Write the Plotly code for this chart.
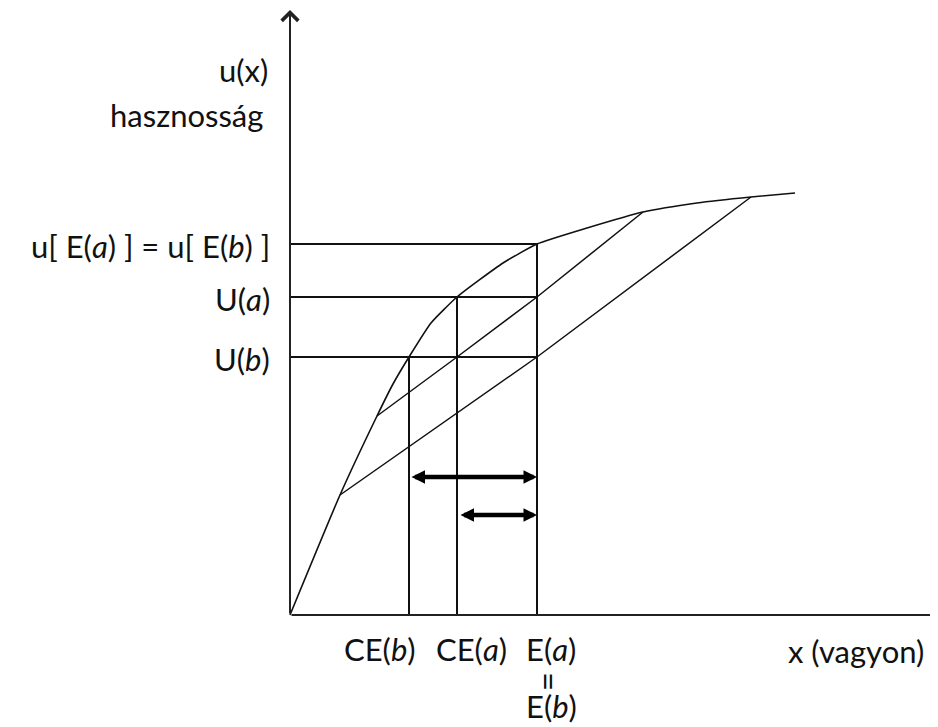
import plotly.graph_objects as go

# ---- data (chart units: 1 unit ~ 1 px, origin at the axes corner) ----
curve_x = [0, 50, 87, 103, 119, 141, 167, 213, 247, 297, 353, 407, 461, 505]
curve_y = [0, 120, 199, 231, 258, 292, 318, 352, 371, 387, 403, 412, 418, 422]

line_a_x = [87, 167, 247, 353]
line_a_y = [199, 258, 318, 403]

line_b_x = [50, 247, 461]
line_b_y = [120, 258, 418]

# certainty equivalents / expected value on x, utilities on y
ce_b, ce_a, e_val = 119, 167, 247
u_b, u_a, u_e = 258, 318, 371

# risk premium arrows (y level, x start, x end)
arrow_levels = [138, 100]
arrow_starts = [120, 169]
arrow_end = 247

y_labels = ["u[ E(<i>a</i>) ] = u[ E(<i>b</i>) ]", "U(<i>a</i>)", "U(<i>b</i>)"]
y_label_vals = [u_e, u_a, u_b]
x_labels = ["CE(<i>b</i>)", "CE(<i>a</i>)", "E(<i>a</i>)"]
x_label_vals = [ce_b - 29, ce_a + 14, e_val + 14]

FONT = "Lato"
FS = 31
BLACK = "#111111"

fig = go.Figure()

# utility curve
fig.add_trace(go.Scatter(x=curve_x, y=curve_y, mode="lines",
                         line=dict(color=BLACK, width=1.6, shape="spline", smoothing=0.5),
                         hoverinfo="skip"))
# expected utility chords
fig.add_trace(go.Scatter(x=line_a_x, y=line_a_y, mode="lines",
                         line=dict(color=BLACK, width=1.5), hoverinfo="skip"))
fig.add_trace(go.Scatter(x=line_b_x, y=line_b_y, mode="lines",
                         line=dict(color=BLACK, width=1.5), hoverinfo="skip"))

# horizontal guides
for yv in [u_e, u_a, u_b]:
    fig.add_trace(go.Scatter(x=[0, e_val], y=[yv, yv], mode="lines",
                             line=dict(color=BLACK, width=2), hoverinfo="skip"))
# vertical guides
for xv, yv in [(ce_b, u_b), (ce_a, u_a), (e_val, u_e)]:
    fig.add_trace(go.Scatter(x=[xv, xv], y=[0, yv], mode="lines",
                             line=dict(color=BLACK, width=2), hoverinfo="skip"))

annotations = []
# axes with arrows
annotations.append(dict(x=0, y=605, ax=0, ay=0, xref="x", yref="y", axref="x", ayref="y",
                        text="", showarrow=True, arrowhead=4, arrowsize=1.6,
                        arrowwidth=2, arrowcolor="#222222", standoff=0))
annotations.append(dict(x=656, y=0, ax=0, ay=0, xref="x", yref="y", axref="x", ayref="y",
                        text="", showarrow=True, arrowhead=4, arrowsize=1.6,
                        arrowwidth=2, arrowcolor="#222222", standoff=0))

# double arrows
for lvl, st in zip(arrow_levels, arrow_starts):
    annotations.append(dict(x=arrow_end, y=lvl, ax=st, ay=lvl, xref="x", yref="y",
                            axref="x", ayref="y", text="", showarrow=True,
                            arrowside="end+start", arrowhead=2, startarrowhead=2,
                            arrowsize=0.6, startarrowsize=0.6, arrowwidth=4.5,
                            arrowcolor="black", standoff=0, startstandoff=0))

# y-axis labels
annotations.append(dict(x=-20, y=545, xref="x", yref="y", text="u(x)", showarrow=False,
                        xanchor="right", yanchor="middle", font=dict(family=FONT, size=FS, color=BLACK)))
annotations.append(dict(x=-25, y=500, xref="x", yref="y", text="hasznosság", showarrow=False,
                        xanchor="right", yanchor="middle", font=dict(family=FONT, size=FS, color=BLACK)))
for txt, yv in zip(y_labels, y_label_vals):
    annotations.append(dict(x=-18, y=yv - 2, xref="x", yref="y", text=txt, showarrow=False,
                            xanchor="right", yanchor="middle",
                            font=dict(family=FONT, size=FS, color=BLACK)))

# x-axis labels
for txt, xv in zip(x_labels, x_label_vals):
    annotations.append(dict(x=xv, y=-34, xref="x", yref="y", text=txt, showarrow=False,
                            xanchor="center", yanchor="middle",
                            font=dict(family=FONT, size=FS, color=BLACK)))
annotations.append(dict(x=e_val + 13, y=-66, xref="x", yref="y", text="=", textangle=90,
                        showarrow=False, xanchor="center", yanchor="middle",
                        font=dict(family=FONT, size=FS + 2, color=BLACK)))
annotations.append(dict(x=e_val + 14, y=-91, xref="x", yref="y", text="E(<i>b</i>)",
                        showarrow=False, xanchor="center", yanchor="middle",
                        font=dict(family=FONT, size=FS, color=BLACK)))
annotations.append(dict(x=566, y=-36, xref="x", yref="y", text="x (vagyon)", showarrow=False,
                        xanchor="center", yanchor="middle",
                        font=dict(family=FONT, size=FS, color=BLACK)))

# page body has an 8px margin: the figure is 930x719 placed at (8, 8)
fig.update_layout(
    width=930, height=719,
    margin=dict(l=0, r=0, t=0, b=0),
    paper_bgcolor="white", plot_bgcolor="white",
    showlegend=False,
    xaxis=dict(range=[-282, 648], visible=False, fixedrange=True),
    yaxis=dict(range=[-112, 607], visible=False, fixedrange=True),
    annotations=annotations,
)

fig.write_html("out.html")
